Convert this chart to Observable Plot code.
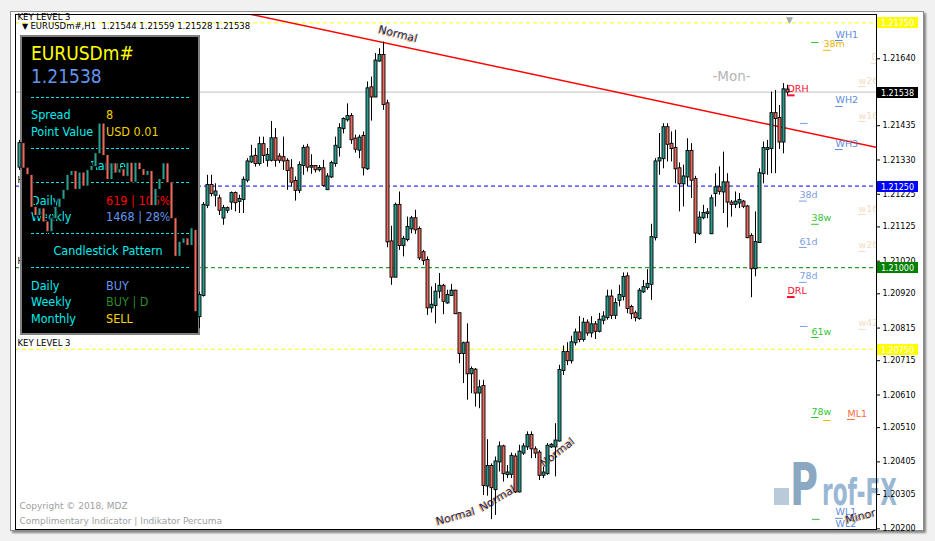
<!DOCTYPE html>
<html><head><meta charset="utf-8">
<script src="https://cdn.jsdelivr.net/npm/d3@7"></script>
<script src="https://cdn.jsdelivr.net/npm/@observablehq/plot@0.6"></script>
<style>
html,body{margin:0;padding:0;background:#f1f1f1;}
#wrap{position:relative;width:935px;height:541px;overflow:hidden;}
#win{position:absolute;left:10px;top:11px;width:912px;height:518px;background:#fff;border:1px solid #8c8c8c;box-shadow:2px 2px 2px rgba(0,0,0,0.45);}
#wrap svg{position:absolute;left:0;top:0;}
</style></head>
<body><div id="wrap"><div id="win"></div></div>
<script>
// ---------- DATA ----------
const symbol = "EURUSDm#";
const timeframe = "H1";
const firstBar = 4;
const open = [1.21308,1.21380,1.21305,1.21283,1.21185,1.21160,1.21180,1.21140,1.21110,1.21150,
1.21185,1.21210,1.21237,1.21283,1.21295,1.21240,1.21290,1.21250,1.21298,1.21310,
1.21349,1.21440,1.21344,1.21270,1.21318,1.21290,1.21300,1.21280,1.21320,1.21262,
1.21320,1.21300,1.21283,1.21295,1.21190,1.21240,1.21270,1.21318,1.21260,1.21150,
1.21035,1.21075,1.21088,1.21068,1.21114,1.20850,1.20915,1.21191,1.21252,1.21222,
1.21211,1.21152,1.21176,1.21201,1.21227,1.21203,1.21209,1.21268,1.21324,1.21341,
1.21319,1.21377,1.21329,1.21329,1.21395,1.21339,1.21337,1.21326,1.21303,1.21264,
1.21237,1.21313,1.21367,1.21308,1.21310,1.21300,1.21303,1.21239,1.21278,1.21319,
1.21368,1.21426,1.21453,1.21463,1.21394,1.21360,1.21402,1.21303,1.21551,1.21523,
1.21633,1.21650,1.21502,1.21079,1.20971,1.21191,1.21068,1.21086,1.21119,1.21150,
1.21117,1.21046,1.21022,1.20877,1.20884,1.20928,1.20943,1.20892,1.20915,1.20928,
1.20859,1.20737,1.20769,1.20675,1.20686,1.20616,1.20636,1.20331,1.20391,1.20320,
1.20405,1.20451,1.20366,1.20367,1.20420,1.20313,1.20432,1.20451,1.20486,1.20442,
1.20432,1.20364,1.20369,1.20451,1.20451,1.20469,1.20685,1.20740,1.20715,1.20770,
1.20800,1.20780,1.20830,1.20800,1.20825,1.20805,1.20839,1.20847,1.20910,1.20854,
1.20900,1.20912,1.20972,1.20878,1.20859,1.20844,1.20926,1.20939,1.20949,1.21092,
1.21327,1.21334,1.21429,1.21378,1.21365,1.21303,1.21257,1.21278,1.21356,1.21270,
1.21104,1.21153,1.21166,1.21104,1.21227,1.21245,1.21232,1.21260,1.21198,1.21194,
1.21198,1.21201,1.21186,1.21096,1.20997,1.21077,1.21288,1.21362,1.21365,1.21472,
1.21457,1.21385,1.21544];
const high = [1.21390,1.21385,1.21320,1.21290,1.21195,1.21190,1.21185,1.21160,1.21165,1.21200,
1.21215,1.21250,1.21300,1.21305,1.21300,1.21300,1.21296,1.21305,1.21320,1.21365,
1.21455,1.21451,1.21355,1.21325,1.21330,1.21315,1.21310,1.21330,1.21330,1.21325,
1.21328,1.21305,1.21305,1.21300,1.21262,1.21285,1.21325,1.21325,1.21265,1.21155,
1.21085,1.21095,1.21092,1.21125,1.21125,1.20925,1.21200,1.21283,1.21283,1.21257,
1.21222,1.21191,1.21186,1.21232,1.21232,1.21222,1.21278,1.21334,1.21375,1.21365,
1.21400,1.21400,1.21365,1.21448,1.21426,1.21349,1.21400,1.21334,1.21331,1.21278,
1.21324,1.21375,1.21378,1.21346,1.21313,1.21313,1.21329,1.21288,1.21326,1.21400,
1.21441,1.21459,1.21502,1.21472,1.21406,1.21406,1.21416,1.21569,1.21584,1.21656,
1.21671,1.21691,1.21513,1.21127,1.21198,1.21232,1.21096,1.21155,1.21157,1.21176,
1.21125,1.21053,1.21033,1.20941,1.20951,1.20982,1.20949,1.20931,1.20949,1.20931,
1.20861,1.20772,1.20828,1.20696,1.20691,1.20655,1.20655,1.20473,1.20399,1.20420,
1.20466,1.20456,1.20394,1.20432,1.20430,1.20456,1.20461,1.20497,1.20497,1.20451,
1.20440,1.20389,1.20461,1.20461,1.20522,1.20701,1.20760,1.20770,1.20790,1.20812,
1.20850,1.20845,1.20840,1.20850,1.20835,1.20860,1.20865,1.20931,1.20931,1.20905,
1.20946,1.20984,1.20984,1.20885,1.20867,1.20936,1.20961,1.20994,1.21133,1.21334,
1.21411,1.21441,1.21441,1.21416,1.21421,1.21321,1.21314,1.21395,1.21380,1.21280,
1.21171,1.21191,1.21181,1.21222,1.21288,1.21309,1.21354,1.21288,1.21206,1.21232,
1.21227,1.21206,1.21191,1.21104,1.21171,1.21303,1.21385,1.21390,1.21538,1.21543,
1.21497,1.21564,1.21559];
const low = [1.21298,1.21300,1.21270,1.21175,1.21150,1.21150,1.21130,1.21100,1.21100,1.21140,
1.21170,1.21200,1.21225,1.21270,1.21230,1.21235,1.21240,1.21237,1.21280,1.21267,
1.21339,1.21335,1.21260,1.21262,1.21280,1.21275,1.21270,1.21275,1.21255,1.21258,
1.21290,1.21275,1.21270,1.21185,1.21185,1.21230,1.21252,1.21255,1.21145,1.21030,
1.21025,1.21070,1.21060,1.21002,1.20855,1.20813,1.20910,1.21181,1.21217,1.21186,
1.21160,1.21130,1.21166,1.21176,1.21171,1.21166,1.21166,1.21260,1.21319,1.21308,
1.21311,1.21319,1.21308,1.21324,1.21308,1.21319,1.21298,1.21237,1.21247,1.21204,
1.21227,1.21283,1.21293,1.21286,1.21290,1.21293,1.21247,1.21237,1.21273,1.21308,
1.21339,1.21410,1.21446,1.21378,1.21351,1.21334,1.21281,1.21298,1.21449,1.21521,
1.21630,1.21482,1.21061,1.20946,1.20969,1.21053,1.21033,1.21079,1.21104,1.21102,
1.21022,1.21007,1.20854,1.20861,1.20828,1.20905,1.20856,1.20888,1.20912,1.20857,
1.20706,1.20645,1.20594,1.20614,1.20573,1.20568,1.20302,1.20300,1.20228,1.20241,
1.20374,1.20343,1.20354,1.20354,1.20308,1.20310,1.20425,1.20440,1.20415,1.20415,
1.20348,1.20354,1.20364,1.20446,1.20359,1.20466,1.20670,1.20700,1.20705,1.20760,
1.20770,1.20772,1.20790,1.20785,1.20780,1.20800,1.20825,1.20839,1.20841,1.20841,
1.20880,1.20898,1.20859,1.20841,1.20834,1.20839,1.20921,1.20931,1.20900,1.21082,
1.21283,1.21303,1.21324,1.21324,1.21257,1.21171,1.21186,1.21249,1.21212,1.21074,
1.21099,1.21147,1.21150,1.21102,1.21186,1.21222,1.21166,1.21122,1.21155,1.21181,
1.21181,1.21181,1.21089,1.20908,1.20972,1.21075,1.21257,1.21283,1.21288,1.21288,
1.21362,1.21349,1.21528];
const close = [1.21380,1.21305,1.21285,1.21185,1.21160,1.21180,1.21140,1.21110,1.21150,1.21185,
1.21210,1.21237,1.21283,1.21295,1.21240,1.21290,1.21250,1.21298,1.21310,1.21349,
1.21440,1.21344,1.21270,1.21318,1.21290,1.21300,1.21280,1.21320,1.21262,1.21320,
1.21300,1.21283,1.21295,1.21190,1.21240,1.21270,1.21318,1.21260,1.21150,1.21035,
1.21078,1.21088,1.21068,1.21119,1.20865,1.20915,1.21191,1.21252,1.21227,1.21232,
1.21176,1.21181,1.21181,1.21227,1.21199,1.21209,1.21268,1.21324,1.21339,1.21319,
1.21377,1.21344,1.21344,1.21395,1.21329,1.21329,1.21327,1.21298,1.21262,1.21237,
1.21313,1.21365,1.21308,1.21310,1.21300,1.21304,1.21252,1.21278,1.21319,1.21372,
1.21426,1.21454,1.21463,1.21392,1.21363,1.21397,1.21306,1.21548,1.21523,1.21633,
1.21650,1.21500,1.21079,1.20971,1.21191,1.21068,1.21087,1.21123,1.21150,1.21116,
1.21030,1.21022,1.20877,1.20885,1.20925,1.20943,1.20897,1.20915,1.20928,1.20859,
1.20737,1.20767,1.20675,1.20688,1.20616,1.20632,1.20333,1.20391,1.20326,1.20405,
1.20451,1.20369,1.20371,1.20422,1.20313,1.20435,1.20451,1.20486,1.20445,1.20432,
1.20364,1.20371,1.20453,1.20456,1.20469,1.20685,1.20740,1.20715,1.20770,1.20800,
1.20780,1.20830,1.20800,1.20825,1.20805,1.20839,1.20849,1.20910,1.20854,1.20890,
1.20915,1.20970,1.20875,1.20859,1.20847,1.20928,1.20939,1.20949,1.21092,1.21324,
1.21334,1.21429,1.21378,1.21365,1.21303,1.21257,1.21278,1.21356,1.21268,1.21106,
1.21152,1.21166,1.21168,1.21211,1.21245,1.21234,1.21260,1.21201,1.21194,1.21201,
1.21206,1.21188,1.21092,1.20997,1.21077,1.21288,1.21365,1.21365,1.21472,1.21457,
1.21385,1.21545,1.21538];

const keyLevelNames = ["KEY LEVEL 3", "H", "H", "KEY LEVEL 3"];
const keyLevelPrices = [1.21750, 1.21250, 1.21000, 1.20750];
const axisTicks = [1.21745,1.21640,1.21535,1.21435,1.21330,1.21225,1.21125,1.21020,1.20920,1.20815,1.20715,1.20610,1.20510,1.20405,1.20305,1.20200];

const trendBars = [40, 220];
const trendPrices = [1.21833, 1.21364];

const patternNames = ["Normal", "Normal", "Normal", "Normal", "Minor"];
const patternBars = [98.6, 113, 123.5, 138.5, 214.25];
const patternPrices = [1.21716, 1.20238, 1.20293, 1.20434, 1.20238];

const sessionName = "-Mon-";
const sessionBar = 182;
const sessionPrice = 1.21586;

const levelNames = ["WH1","38m","","WH2","WH3","DRH","","38d","38w","61d","78d","DRL","","61w","78w","","ML1","WL1","WL2","","w26","w16","w16","w26","w42","D"];
const levelKinds = ["pivot-w","fib-m","fib-w","pivot-w","pivot-w","range-d","fib-d","fib-d","fib-w","fib-d","fib-d","range-d","fib-d","fib-w","fib-w","fib-m","pivot-m","pivot-w","pivot-w","fib-w","faded","faded","faded","faded","faded","faded"];
const levelBars = [208,205,202,208,208,196,199.25,199,202,199,199,196,199.25,202,202,205,211,208,208,202.25,213.75,213.75,213.75,213.75,213.75,217];
const levelPrices = [1.21696,1.21666,1.21690,1.21494,1.21362,1.21528,1.21442,1.21204,1.21133,1.21062,1.20955,1.20910,1.20820,1.20786,1.20541,1.20532,1.20535,1.20232,1.20198,1.20229,1.21555,1.21448,1.21163,1.21050,1.20811,1.21626];

const spreadLabels = ["Spread", "Point Value"];
const spreadValues = ["8", "USD 0.01"];
const rangeLabels = ["Daily", "Weekly"];
const rangeValues = ["619 | 105%", "1468 | 28%"];
const signalLabels = ["Daily", "Weekly", "Monthly"];
const signalValues = ["BUY", "BUY | D", "SELL"];
const copyrightLines = ["Copyright \u00a9 2018, MDZ", "Complimentary Indicator | Indikator Percuma"];
const watermarkText = ["P", "rof-FX"];

// ---------- STYLE ----------
const UP = "#2a9d8f", DOWN = "#ea6b5e";
const keyLevelColors = ["#ffff00", "#0000ff", "#008000", "#ffff00"];
const kindColor = {"pivot-w":"#5b8ddb","fib-m":"#e8b400","fib-w":"#33c433","fib-d":"#7b9fe3","range-d":"#ff0a2a","pivot-m":"#ff6a3a","faded":"#f3dcc4"};
const patternAngles = [14, -16, -31, -38, -15];
const sansFont = "DejaVu Sans, sans-serif";
const condFont = "'DejaVu Sans Condensed', 'DejaVu Sans', sans-serif";

// ---------- BUILD ----------
const W = 935, H = 541;
const candles = open.map((o, i) => ({bar: firstBar + i, open: o, high: high[i], low: low[i], close: close[i]}));
const last = candles[candles.length - 1];
const keyLevels = keyLevelNames.map((n, i) => ({name: n, price: keyLevelPrices[i], color: keyLevelColors[i]}));
const trend = trendBars.map((b, i) => ({bar: b, price: trendPrices[i]}));
const patterns = patternNames.map((n, i) => ({name: n, bar: patternBars[i], price: patternPrices[i], angle: patternAngles[i]}));
const levels = levelNames.map((n, i) => ({label: n, kind: levelKinds[i], bar: levelBars[i], price: levelPrices[i]}));
const solidLevels = levels.filter(d => d.kind !== "faded");
const fadedLevels = levels.filter(d => d.kind === "faded");

const base = {
  width: W, height: H,
  marginLeft: 15, marginRight: 59, marginTop: 14, marginBottom: 12,
  x: {type: "linear", domain: [3, 218.25], range: [15, 876], axis: null},
  color: {type: "identity"},
  style: {background: "transparent", fontFamily: sansFont, fontSize: "8px", color: "#000", overflow: "visible"}
};
const yBase = {type: "linear", domain: [1.201979, 1.217757], range: [529, 14]};

const chartA = Plot.plot({
  ...base,
  y: {...yBase, axis: "right", ticks: axisTicks, tickFormat: d => d.toFixed(5), tickSize: 3, tickPadding: 3, label: null},
  marks: [
    Plot.ruleY([last.close], {stroke: "#c0c0c0"}),
    Plot.ruleY(keyLevels, {y: "price", stroke: "color", strokeDasharray: "4,3"}),
    Plot.text(keyLevels, {y: "price", text: "name", frameAnchor: "left", dx: 2, dy: -6, textAnchor: "start", fill: "#000", fontSize: 8.5}),
    Plot.line(trend, {x: "bar", y: "price", stroke: "#ff0000", clip: true}),
    Plot.ruleY(fadedLevels, {y: "price", x1: "bar", x2: d => d.bar + 1.9, stroke: kindColor.faded, clip: true}),
    Plot.text(fadedLevels, {x: "bar", y: "price", text: "label", dy: -6, textAnchor: "start", fill: kindColor.faded, fontSize: 9.5, clip: true}),
    Plot.ruleY(solidLevels, {y: "price", x1: "bar", x2: d => d.bar + 1.9, stroke: d => kindColor[d.kind], strokeWidth: d => d.kind === "range-d" ? 2 : 1}),
    Plot.text(solidLevels.filter(d => d.label), {x: "bar", y: "price", text: "label", dy: -6, textAnchor: "start", fill: d => kindColor[d.kind], fontSize: 9.5}),
    Plot.text([sessionName], {x: () => sessionBar, y: () => sessionPrice, text: d => d, fill: "#b4b4b4", fontSize: 13.5}),
    Plot.text(patterns, {x: "bar", y: "price", text: "name", rotate: "angle", fill: "#eaa13c", dx: -0.8, dy: 0.8, fontSize: 11}),
    Plot.text(patterns, {x: "bar", y: "price", text: "name", rotate: "angle", fill: "#14286e", fontSize: 11}),
    Plot.text([copyrightLines[0]], {text: d => d, frameAnchor: "bottom-left", dx: 4, dy: -23, textAnchor: "start", lineAnchor: "middle", fill: "#a0a0a0", fontSize: 9}),
    Plot.text([copyrightLines[1]], {text: d => d, frameAnchor: "bottom-left", dx: 4, dy: -8, textAnchor: "start", lineAnchor: "middle", fill: "#a0a0a0", fontSize: 9}),
    Plot.frame({stroke: "#000"})
  ]
});

// watermark under the axis labels
const yA = chartA.scale("y");
const svgA = d3.select(chartA);
const wm = d3.create("svg:g").attr("fill-opacity", 0.92).attr("text-anchor", "start");
wm.append("rect").attr("x", 774).attr("y", 488).attr("width", 15).attr("height", 17).attr("fill", "#b3c7d8");
wm.append("text").attr("transform", "translate(790,505) scale(0.66,1)").attr("text-anchor", "start").attr("font-family", sansFont).attr("font-weight", "bold")
  .attr("font-size", 58).attr("fill", "#7f9fbc").text(watermarkText[0]);
wm.append("text").attr("transform", "translate(822,505) scale(0.57,1)").attr("text-anchor", "start").attr("font-family", sansFont).attr("font-weight", "bold")
  .attr("font-size", 38).attr("fill", "#8fb1cf").text(watermarkText[1]);
chartA.insertBefore(wm.node(), chartA.firstChild.nextSibling);

// axis price boxes
const boxes = [
  {price: keyLevelPrices[0], fill: "#ffff00"},
  {price: last.close, fill: "#000000"},
  {price: keyLevelPrices[1], fill: "#0000ff"},
  {price: keyLevelPrices[2], fill: "#008000"},
  {price: keyLevelPrices[3], fill: "#ffff00"}
];
boxes.forEach(b => {
  const y = yA.apply(b.price);
  svgA.append("rect").attr("x", 877).attr("y", Math.round(y) - 5).attr("width", 41).attr("height", 11).attr("fill", b.fill);
  svgA.append("text").attr("x", 897.5).attr("y", Math.round(y) + 3.5).attr("text-anchor", "middle")
    .attr("font-family", sansFont).attr("font-size", 8).attr("fill", "#fff").text(b.price.toFixed(5));
});
document.getElementById("wrap").appendChild(chartA);

// ---------- info panel (behind candles) ----------
const panel = d3.create("svg").attr("width", W).attr("height", H);
panel.append("rect").attr("x", 21).attr("y", 36).attr("width", 178).attr("height", 298)
  .attr("fill", "#000").attr("stroke", "#808080").attr("stroke-width", 2);
function pt(x, y, size, txt, fill, anchor) {
  panel.append("text").attr("x", x).attr("y", y).attr("font-family", condFont).attr("font-size", size)
    .attr("fill", fill).attr("text-anchor", anchor || "start").text(txt);
}
pt(31, 60, 19, symbol, "#ffff00");
pt(31, 83, 19, last.close.toFixed(5), "#6495ed");
[97.5, 148.5, 182.5, 233.5, 267.5].forEach(y => panel.append("line").attr("x1", 31).attr("x2", 189)
  .attr("y1", y).attr("y2", y).attr("stroke", "#00e8e8").attr("stroke-dasharray", "3,2"));
const cyan = "#00ecec";
pt(31, 119, 12.5, spreadLabels[0], cyan); pt(106, 119, 12.5, spreadValues[0], "#f0d000");
pt(31, 136, 12.5, spreadLabels[1], cyan); pt(106, 136, 12.5, spreadValues[1], "#f0d000");
pt(108, 170, 12.5, "Range", cyan, "middle");
pt(31, 204.5, 12.5, rangeLabels[0], cyan); pt(106, 204.5, 12.5, rangeValues[0], "#ff0000");
pt(31, 221, 12.5, rangeLabels[1], cyan); pt(106, 221, 12.5, rangeValues[1], "#6495ed");
pt(108, 254.5, 12.5, "Candlestick Pattern", cyan, "middle");
pt(31, 289.5, 12.5, signalLabels[0], cyan); pt(106, 289.5, 12.5, signalValues[0], "#6495ed");
pt(31, 306, 12.5, signalLabels[1], cyan); pt(106, 306, 12.5, signalValues[1], "#2a8a2a");
pt(31, 322.5, 12.5, signalLabels[2], cyan); pt(106, 322.5, 12.5, signalValues[2], "#ffd700");
document.getElementById("wrap").appendChild(panel.node());

// ---------- candles & header (foreground) ----------
const header = `${symbol},${timeframe}  ${last.open.toFixed(5)} ${last.high.toFixed(5)} ${last.low.toFixed(5)} ${last.close.toFixed(5)}`;
const chartB = Plot.plot({
  ...base,
  y: {...yBase, axis: null},
  marks: [
    Plot.ruleX(candles, {x: "bar", y1: "low", y2: "high", stroke: "#000"}),
    Plot.rect(candles, {x1: d => d.bar - 0.25, x2: d => d.bar + 0.5, y1: "open", y2: "close",
      fill: d => d.close >= d.open ? UP : DOWN, fillOpacity: 1, stroke: "#000", strokeWidth: 0.9,
      insetTop: -0.5, insetBottom: -0.5}),
    Plot.text(["\u25BC"], {text: d => d, frameAnchor: "top-left", dx: 6.5, dy: 8.5, fill: "#000", fontSize: 8}),
    Plot.text([header], {text: d => d, frameAnchor: "top-left", dx: 15, dy: 8.7, textAnchor: "start", fill: "#000", fontSize: 8.5}),
    Plot.text(["\u25BC"], {text: d => d, x: () => 196.5, frameAnchor: "top", dy: 2.5, fill: "#a8a8a8", fontSize: 9})
  ]
});
document.getElementById("wrap").appendChild(chartB);
</script></body></html>
